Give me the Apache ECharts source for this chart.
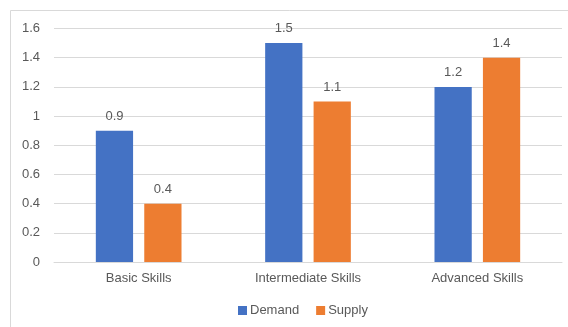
<!DOCTYPE html>
<html>
<head>
<meta charset="utf-8">
<style>
  html, body { margin: 0; padding: 0; background: #ffffff; }
  #chart { width: 568px; height: 327px; }
</style>
<script src="https://cdn.jsdelivr.net/npm/echarts@6/dist/echarts.min.js"></script>
</head>
<body>
<div id="chart"></div>
<script>
// Skill levels on the x axis
const categories = ['Basic Skills', 'Intermediate Skills', 'Advanced Skills'];
// Series values
const demand = [0.9, 1.5, 1.2];
const supply = [0.4, 1.1, 1.4];
// Value axis range
const yMin = 0;
const yMax = 1.6;
const yStep = 0.2;

const textColor = '#595959';
const gridColor = '#D9D9D9';
const font = 'Liberation Sans, Arial, sans-serif';

const chart = echarts.init(document.getElementById('chart'), null, { renderer: 'canvas' });

const valueLabel = {
  show: true,
  position: 'top',
  distance: 8,
  color: textColor,
  fontFamily: font,
  fontSize: 13
};

chart.setOption({
  animation: false,
  backgroundColor: '#ffffff',
  graphic: [{
    type: 'rect',
    silent: true,
    shape: { x: 10.5, y: 10.5, width: 600, height: 400 },
    style: { fill: 'none', stroke: '#D9D9D9', lineWidth: 1 }
  }],
  grid: { left: 54, right: 6, top: 28.5, bottom: 65 },
  legend: {
    left: 233,
    top: 299,
    itemWidth: 9,
    itemHeight: 9,
    itemGap: 17,
    icon: 'rect',
    textStyle: { color: textColor, fontFamily: font, fontSize: 13, padding: [0, 0, 0, -2] },
    data: ['Demand', 'Supply']
  },
  xAxis: {
    type: 'category',
    data: categories,
    axisLine: { show: true, lineStyle: { color: gridColor } },
    axisTick: { show: false },
    axisLabel: { color: textColor, fontFamily: font, fontSize: 13, margin: 10 }
  },
  yAxis: {
    type: 'value',
    min: yMin,
    max: yMax,
    interval: yStep,
    axisLine: { show: false },
    axisTick: { show: false },
    splitLine: { lineStyle: { color: gridColor } },
    axisLabel: {
      color: textColor, fontFamily: font, fontSize: 13, margin: 14,
      formatter: v => String(Math.round(v * 10) / 10)
    }
  },
  series: [
    {
      name: 'Demand',
      type: 'bar',
      data: demand,
      barWidth: '22%',
      barGap: '30%',
      itemStyle: { color: '#4472C4' },
      label: valueLabel
    },
    {
      name: 'Supply',
      type: 'bar',
      data: supply,
      barWidth: '22%',
      barGap: '30%',
      itemStyle: { color: '#ED7D31' },
      label: valueLabel
    }
  ]
});
</script>
</body>
</html>
